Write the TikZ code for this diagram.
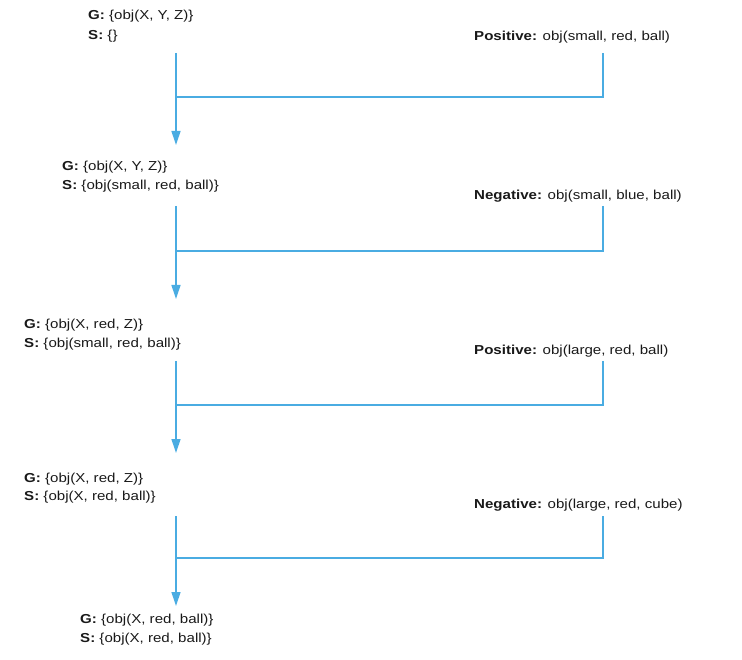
\documentclass[tikz,border=0pt]{standalone}
\usepackage{fontspec}
\setmainfont{Liberation Sans}[FakeStretch=1.16]
\usetikzlibrary{arrows.meta}
\definecolor{lineblue}{RGB}{74,172,226}
\definecolor{txt}{RGB}{25,25,25}
\tikzset{
  lbl/.style={anchor=west, inner sep=0pt, font=\fontsize{13}{15}\selectfont, text=txt},
  conn/.style={draw=lineblue, line width=1.3pt},
  arr/.style={conn, -{Triangle[length=14pt,width=9pt]}}
}
\begin{document}
\begin{tikzpicture}[x=1pt,y=-1pt]
\useasboundingbox (0,0) rectangle (742,660);
% states
\node[lbl] (s1g) at (88,16) {\textbf{G:} \{obj(X, Y, Z)\}};
\node[lbl] (s1s) at (88,36) {\textbf{S:} \{\}};
\node[lbl] (s2g) at (62,167) {\textbf{G:} \{obj(X, Y, Z)\}};
\node[lbl] (s2s) at (62,186) {\textbf{S:} \{obj(small, red, ball)\}};
\node[lbl] (s3g) at (24,325) {\textbf{G:} \{obj(X, red, Z)\}};
\node[lbl] (s3s) at (24,344) {\textbf{S:} \{obj(small, red, ball)\}};
\node[lbl] (s4g) at (24,479) {\textbf{G:} \{obj(X, red, Z)\}};
\node[lbl] (s4s) at (24,497) {\textbf{S:} \{obj(X, red, ball)\}};
\node[lbl] (s5g) at (80,620) {\textbf{G:} \{obj(X, red, ball)\}};
\node[lbl] (s5s) at (80,639) {\textbf{S:} \{obj(X, red, ball)\}};
% examples
\node[lbl] (e1) at (474,37) {\textbf{Positive:} obj(small, red, ball)};
\node[lbl] (e2) at (474,196) {\textbf{Negative:} obj(small, blue, ball)};
\node[lbl] (e3) at (474,351) {\textbf{Positive:} obj(large, red, ball)};
\node[lbl] (e4) at (474,505) {\textbf{Negative:} obj(large, red, cube)};
% connector coordinates
\coordinate (a1) at (176,53);  \coordinate (b1) at (176,145);
\coordinate (r1) at (603,53);  \coordinate (h1) at (176,97);
\coordinate (a2) at (176,206); \coordinate (b2) at (176,299);
\coordinate (r2) at (603,206); \coordinate (h2) at (176,251);
\coordinate (a3) at (176,361); \coordinate (b3) at (176,453);
\coordinate (r3) at (603,361); \coordinate (h3) at (176,405);
\coordinate (a4) at (176,516); \coordinate (b4) at (176,606);
\coordinate (r4) at (603,516); \coordinate (h4) at (176,558);
\draw[arr] (a1) -- (b1);
\draw[conn] (r1) |- (h1);
\draw[arr] (a2) -- (b2);
\draw[conn] (r2) |- (h2);
\draw[arr] (a3) -- (b3);
\draw[conn] (r3) |- (h3);
\draw[arr] (a4) -- (b4);
\draw[conn] (r4) |- (h4);
\end{tikzpicture}
\end{document}
